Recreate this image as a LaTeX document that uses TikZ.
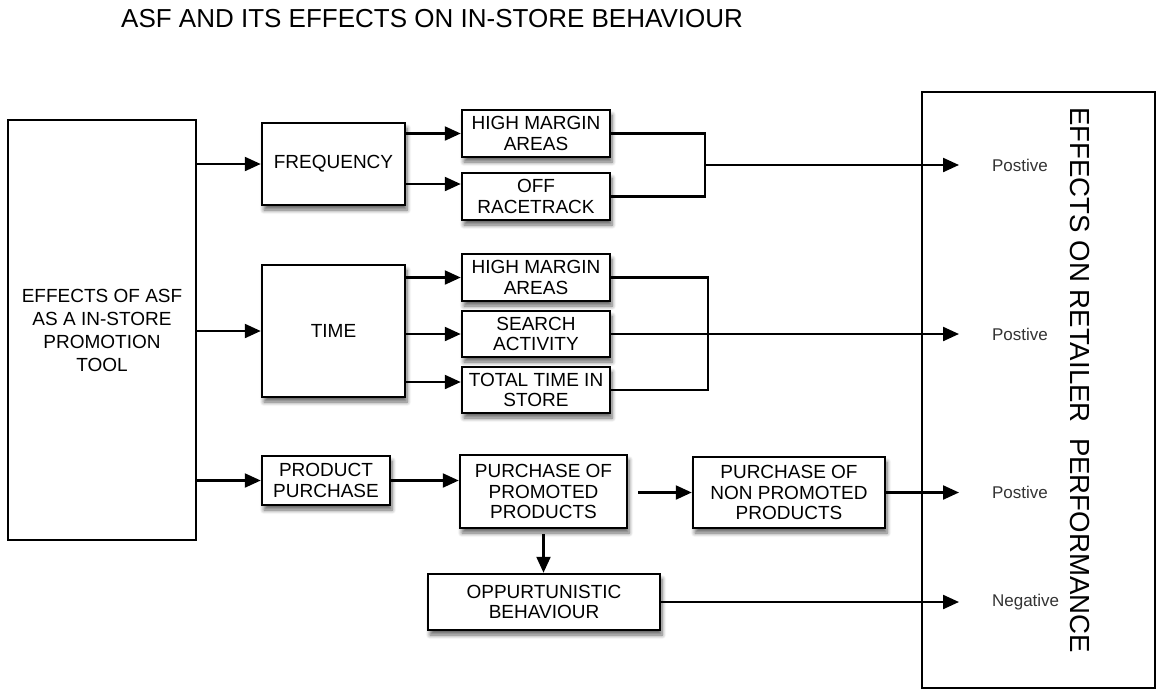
\documentclass[tikz,border=0pt]{standalone}
\usepackage{fontspec}
\setmainfont{Liberation Sans}
\usetikzlibrary{positioning,arrows.meta,shadows.blur}

\begin{document}
\begin{tikzpicture}[x=0.5pt, y=-0.5pt,
  box/.style={rectangle, draw, line width=1.25pt, fill=white, align=center, inner sep=1pt, font=\fontsize{9.5}{10.3}\selectfont,
    blur shadow={shadow xshift=1pt, shadow yshift=-2.5pt, shadow blur steps=6, shadow opacity=60}},
  bigbox/.style={rectangle, draw, line width=1.25pt, fill=white, align=center, font=\fontsize{9.5}{11.5}\selectfont},
  arrow/.style={-{Triangle[length=8pt,width=7pt]}, line width=1.15pt},
  link/.style={line width=1.15pt},
  effect/.style={anchor=west, font=\fontsize{8.5}{10}\selectfont, text=black!80}]
\useasboundingbox (0,0) rectangle (1157,691);
\node[font=\fontsize{13}{15}\selectfont] (title) at (432,19) {ASF AND ITS EFFECTS ON IN-STORE BEHAVIOUR};
% left and right boxes
\node[bigbox, minimum width=94pt, minimum height=210pt] (asf) at (102,330) {EFFECTS OF ASF\\AS A IN-STORE\\PROMOTION\\TOOL};
\node[bigbox, minimum width=116.5pt, minimum height=298pt] (retail) at (1038.5,390) {};
\node[rotate=-90, font=\fontsize{13.8}{15}\selectfont] (perf) at (1080,380) {EFFECTS ON RETAILER\ \ PERFORMANCE};
% first level
\node[box, minimum width=71.5pt, minimum height=41pt] (freq) at (333.5,164) {FREQUENCY};
\node[box, minimum width=71.5pt, minimum height=66pt] (time) at (333.5,331) {TIME};
\node[box, minimum width=64pt, minimum height=24.5pt] (prod) at (326,480.5) {PRODUCT\\PURCHASE};
% second level
\node[box, minimum width=74pt, minimum height=23.5pt] (hma1) at (536,133.5) {HIGH MARGIN\\AREAS};
\node[box, minimum width=74pt, minimum height=23.5pt] (off) at (536,196.5) {OFF\\RACETRACK};
\node[box, minimum width=74pt, minimum height=23.5pt] (hma2) at (536,277.5) {HIGH MARGIN\\AREAS};
\node[box, minimum width=74pt, minimum height=23pt] (search) at (536,334) {SEARCH\\ACTIVITY};
\node[box, minimum width=74pt, minimum height=23pt] (total) at (536,390) {TOTAL TIME IN\\STORE};
\node[box, minimum width=83.5pt, minimum height=36.5pt] (promo) at (543.5,491.5) {PURCHASE OF\\PROMOTED\\PRODUCTS};
\node[box, minimum width=96pt, minimum height=35.5pt] (nonpromo) at (789,492.5) {PURCHASE OF\\NON PROMOTED\\PRODUCTS};
\node[box, minimum width=116pt, minimum height=28pt] (opp) at (544,602) {OPPURTUNISTIC\\BEHAVIOUR};
% effects
\node[effect] (pos1) at (985,165) {Postive};
\node[effect] (pos2) at (985,334) {Postive};
\node[effect] (pos3) at (985,492.5) {Postive};
\node[effect] (neg) at (985,602) {Negative};
\coordinate (j1) at (705,165);
\coordinate (j2) at (708,334);
% connectors
\draw[arrow] (asf.east |- freq) -- (freq.west);
\draw[arrow] (asf.east |- time) -- (time.west);
\draw[arrow] (asf.east |- prod) -- (prod.west);
\draw[arrow] (freq.east |- hma1) -- (hma1.west);
\draw[arrow] ([yshift=-10pt]freq.east) -- ([yshift=-10pt]freq.east -| off.west);
\draw[arrow] (time.east |- hma2) -- (hma2.west);
\draw[arrow] (time.east |- search) -- (search.west);
\draw[arrow] ([yshift=4pt]time.east |- total) -- ([yshift=4pt]total.west);
\draw[link] (hma1.east) -| (j1) |- (off.east);
\draw[link] (hma2.east) -| (j2) |- (total.east);
\draw[arrow] (j1) -- ([xshift=-13pt]pos1.west);
\draw[arrow] (search.east) -- ([xshift=-13pt]pos2.west);
\draw[arrow] (prod.east) -- (prod.east -| promo.west);
\draw[arrow, shorten <=5pt] (promo.east |- nonpromo) -- (nonpromo.west);
\draw[arrow] (nonpromo.east) -- ([xshift=-13pt]pos3.west);
\draw[arrow, shorten <=2.5pt] (promo.south) -- (promo.south |- opp.north);
\draw[arrow] (opp.east) -- ([xshift=-13pt]neg.west);
\end{tikzpicture}
\end{document}
